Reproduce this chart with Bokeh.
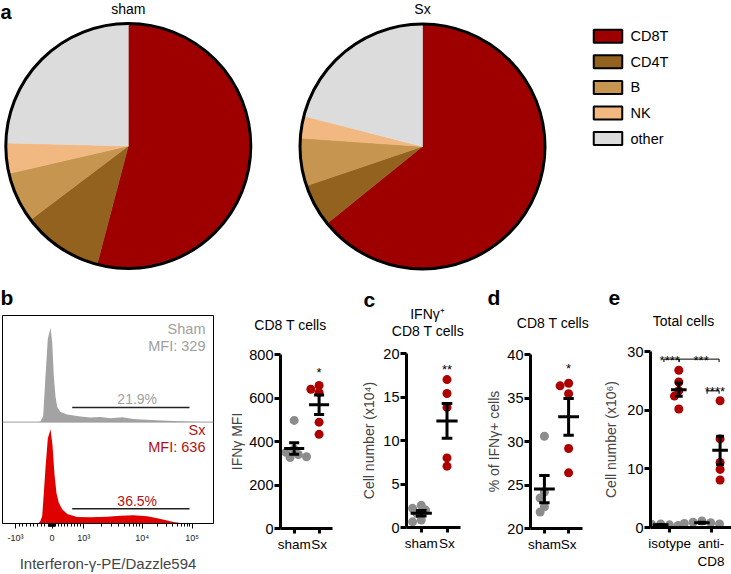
import numpy as np
from bokeh.plotting import figure
from bokeh.layouts import column, row
from bokeh.models import Range1d, FixedTicker, ColumnDataSource, Span
from bokeh.core.properties import value
from bokeh.embed import file_html
from bokeh.resources import INLINE

FONT = "Liberation Sans"
FS = 14.0       # titles / labels (px)
FS_TICK = "13.5px"

# ---------------- data ----------------
cell_types = ["CD8T", "CD4T", "B", "NK", "other"]
cell_colors = ["#9e0000", "#93621f", "#c6954f", "#f2b881", "#dcdcdc"]
pie_groups = ["sham", "Sx"]
pie_sham = [54.1, 10.6, 6.7, 4.0, 24.6]
pie_sx = [64.2, 5.6, 6.3, 2.9, 21.0]

hist_groups = ["Sham", "Sx"]
hist_mfi = [329, 636]
hist_gate_pct = ["21.9%", "36.5%"]
hist_gate_channel = [69.7, 187.0]
hist_tick_labels = ["-10³", "0", "10³", "10⁴", "10⁵"]
hist_tick_channel = [13.0, 49.5, 81.3, 139.7, 189.7]
hist_sham_channel = [36, 38, 40.7, 43, 45.3, 48, 49.7, 51.3, 53, 54.7, 58, 64.7, 78, 88, 98, 108,
                     119.7, 131, 148, 171, 185, 198]
hist_sham_pct = [0, 0.5, 6.4, 49, 88, 100, 85, 49, 27, 16, 10.6, 8, 5.9, 4.8, 5.3, 4, 5.1, 3.4,
                 2.3, 1.1, 0.5, 0]
hist_sx_channel = [36, 38, 39.7, 41.3, 43, 45.3, 48, 50, 52, 54, 56.3, 59.7, 64.7, 74.7, 88, 104.7,
                   118, 131, 144.7, 154.7, 164.7, 171, 178, 185]
hist_sx_pct = [0, 3, 8, 32, 59, 90, 100, 83, 52, 32, 22, 15, 10, 7, 6.7, 7.2, 8.2, 8.7, 7.7, 5.6,
               3.1, 1.5, 0.5, 0]

dot_cats = ["sham", "Sx"]
b_sham = [497, 365, 350, 340, 330, 326]
b_sx = [658, 640, 625, 489, 433]
c_sham = [2.55, 2.2, 2.0, 1.6, 0.85, 0.65]
c_sx = [17.0, 15.4, 13.8, 8.0, 7.05]
d_sham = [30.6, 24.2, 23.5, 22.5, 21.9]
d_sx = [36.7, 36.4, 35.5, 29.2, 26.4]
e_cats = ["isotype", "anti-\nCD8"]
e_iso_sham = [0.6, 0.5, 0.45, 0.4, 0.35]
e_iso_sx = [26.8, 24.8, 23.3, 22.4, 20.2]
e_cd8_sham = [1.1, 0.9, 0.8, 0.7, 0.6]
e_cd8_sx = [21.6, 15.1, 11.1, 9.9, 8.1]

GRAY = "#8c8c8c"
RED = "#ad0000"

# ---------------- layout helpers (page px) ----------------
W, HGT = 731, 574
SPLIT = 290


class Fig:
    def __init__(self, fx0, fx1, fy0, fy1, frame, xr, yr, xaxis=False, yaxis=False):
        l, r, t, b = frame
        self.frame = frame
        self.xr, self.yr = xr, yr
        self.p = figure(
            width=fx1 - fx0, height=fy1 - fy0,
            min_border_left=l - fx0, min_border_right=fx1 - r,
            min_border_top=t - fy0, min_border_bottom=fy1 - b,
            x_range=Range1d(*xr), y_range=Range1d(*yr),
            x_axis_location="below" if xaxis else None,
            y_axis_location="left" if yaxis else None,
            toolbar_location=None, output_backend="svg",
            outline_line_color=None, background_fill_color=None,
            border_fill_color=None, frame_align=False,
        )
        self.p.xgrid.visible = False
        self.p.ygrid.visible = False

    def x(self, xref):
        l, r, t, b = self.frame
        return self.xr[0] + (xref - l) / (r - l) * (self.xr[1] - self.xr[0])

    def y(self, yref):
        l, r, t, b = self.frame
        return self.yr[0] + (b - yref) / (b - t) * (self.yr[1] - self.yr[0])


def txt(p, x, y, text, size=FS, align="center", color="black", bold=False):
    """y is the text baseline; drawn with a middle baseline shifted up by ~0.36 em."""
    p.text(x=[x], y=[y], text=[text], text_align=align, text_baseline="middle",
           y_offset=-0.36 * size,
           text_font=value(FONT), text_font_size="%.1fpx" % size, text_color=color,
           text_font_style="bold" if bold else "normal")


# ---------------- top row: pies ----------------
T = Fig(0, W, 0, SPLIT, (0, W, 0, SPLIT), (0, W), (0, SPLIT))
tp = T.p
tp.background_fill_color = "white"
tp.border_fill_color = "white"
pie_centers = [(127.8, 145.5), (422.0, 146.0)]
R = 122.5
for name, shares, (cx, cy) in zip(pie_groups, [pie_sham, pie_sx], pie_centers):
    frac = np.array(shares, dtype=float) / sum(shares)
    cum = np.concatenate([[0.0], np.cumsum(frac)])
    src = ColumnDataSource(dict(start=np.pi / 2 - 2 * np.pi * cum[:-1],
                                end=np.pi / 2 - 2 * np.pi * cum[1:],
                                color=cell_colors))
    tp.wedge(x=T.x(cx), y=T.y(cy), radius=R, start_angle="start", end_angle="end",
             direction="clock", fill_color="color", line_color="color", line_width=0.5,
             source=src)
    tp.circle(x=[T.x(cx)], y=[T.y(cy)], radius=R, fill_color=None, line_color="black",
              line_width=3)
    txt(tp, T.x(cx), T.y(13.5), name)

txt(tp, T.x(0), T.y(19), "a", size=20, align="left", bold=True)

leg_y = [T.y(35.8 + i * 25.55) for i in range(len(cell_types))]
tp.rect(x=[T.x(607.5)] * len(cell_types), y=leg_y, width=28.5, height=13,
        fill_color=cell_colors, line_color="black", line_width=2)
tp.text(x=[T.x(630)] * len(cell_types), y=leg_y, text=cell_types, text_align="left",
        text_baseline="middle", text_font=value(FONT), text_font_size="14.5px")

# ---------------- panel b: histograms ----------------
H = Fig(0, 226, SPLIT, HGT, (2, 213, 315, 528), (0, 211), (0, 220.5), xaxis=True)
hp = H.p
SX_H = 107.5
unit = 220.5 / (528 - 315)  # data units per px
hp.varea(x=hist_sham_channel, y1=SX_H, y2=[SX_H + v for v in hist_sham_pct],
         fill_color="#a3a3a3")
hp.varea(x=hist_sx_channel, y1=0, y2=hist_sx_pct, fill_color="#e10000")
hp.add_layout(Span(location=SX_H, dimension="width", line_color="#9a9a9a", line_width=1))
hp.outline_line_color = "black"
hp.outline_line_width = 1

gate_off = 15 * unit
bases = [SX_H, 0.0]
colors_txt = ["#a0a0a0", "#b31212"]
for base, grp, mfi, pct, col in zip(bases, hist_groups, hist_mfi, hist_gate_pct, colors_txt):
    hp.segment(x0=[hist_gate_channel[0]], x1=[hist_gate_channel[1]],
               y0=[base + gate_off], y1=[base + gate_off], line_color="#222222", line_width=1.5)
    txt(hp, 134.7, base + gate_off + 3 * unit, pct, color=col)
    txt(hp, 203, base + 90 * unit, grp, size=14.5, align="right", color=col)
    txt(hp, 203, base + 72.5 * unit, "MFI: %d" % mfi, size=14.5, align="right", color=col)

cm, c0, c3, c4, c5 = hist_tick_channel
minor = []
for v in range(1, 10):
    minor += [c0 + (c3 - c0) * v / 10, c0 - (c0 - cm) * v / 10,
              c0 + (c3 - c0) * v / 100, c0 - (c0 - cm) * v / 100]
for m in range(2, 10):
    minor += [c3 + (c4 - c3) * np.log10(m), c4 + (c5 - c4) * np.log10(m)]
ax = hp.xaxis[0]
ax.ticker = FixedTicker(ticks=hist_tick_channel, minor_ticks=sorted(minor))
ax.major_label_overrides = dict(zip(hist_tick_channel, hist_tick_labels))
ax.major_label_text_font = FONT
ax.major_label_text_font_size = "9px"
ax.major_label_text_color = "#222222"
ax.major_label_standoff = 4
ax.major_tick_in = 0
ax.major_tick_out = 5
ax.minor_tick_in = 0
ax.minor_tick_out = 3
ax.axis_line_color = "black"
ax.axis_label = "Interferon-γ-PE/Dazzle594"
ax.axis_label_text_font = FONT
ax.axis_label_text_font_size = "15px"
ax.axis_label_text_font_style = "normal"
ax.axis_label_standoff = 9


# ---------------- dot panels ----------------
def swarm(vals, xc, xppu, yppu, d):
    placed = []
    xs = [0.0] * len(vals)
    for i in sorted(range(len(vals)), key=lambda k: -vals[k]):
        ypx = vals[i] * yppu
        off = 0.0
        for k in [0, -1, 1, -2, 2, -3, 3, -4, 4]:
            off = k * d * 0.5
            if all((off - po) ** 2 + (ypx - pyy) ** 2 >= (d * 0.7) ** 2 for po, pyy in placed):
                break
        placed.append((off, ypx))
        xs[i] = xc + off / xppu
    return xs


def dot_panel(fx, frame, cats_px, yr, yticks, xlabels, ylabel, lab_standoff, groups,
              mean_w=22, cap_w=11):
    fl, fr, ft, fb = frame
    span = cats_px[1] - cats_px[0]
    xr = (1 - (cats_px[0] - fl) / span, 2 + (fr - cats_px[1]) / span)
    F = Fig(fx[0], fx[1], SPLIT, HGT, frame, xr, yr, xaxis=True, yaxis=True)
    p = F.p
    xppu = span
    yppu = (fb - ft) / (yr[1] - yr[0])
    D = 9
    for vals, xc, col in groups:
        xs = swarm(vals, xc, xppu, yppu, D)
        p.scatter(x=xs, y=vals, size=D, fill_color=col, line_color=None)
    for vals, xc, col in groups:
        v = np.array(vals, dtype=float)
        m = v.mean()
        s = v.std(ddof=1) / np.sqrt(len(v))
        hw = mean_w / 2 / xppu
        hc = cap_w / 2 / xppu
        p.segment(x0=[xc - hw, xc, xc - hc, xc - hc], x1=[xc + hw, xc, xc + hc, xc + hc],
                  y0=[m, m - s, m - s, m + s], y1=[m, m + s, m - s, m + s],
                  line_color="black", line_width=3)
    for a in (p.xaxis[0], p.yaxis[0]):
        a.axis_line_width = 3
        a.axis_line_color = "black"
        a.major_tick_line_width = 3
        a.major_tick_in = 0
        a.minor_tick_in = 0
        a.minor_tick_out = 0
        a.major_label_text_font = FONT
        a.major_label_text_font_size = FS_TICK
        a.major_label_text_color = "black"
        a.major_label_standoff = 1
    p.yaxis[0].major_label_text_font_size = "14.5px"
    p.yaxis[0].major_tick_out = 6
    p.xaxis[0].major_tick_out = 5
    p.xaxis[0].major_label_standoff = 3
    p.yaxis[0].ticker = FixedTicker(ticks=yticks, minor_ticks=[])
    p.xaxis[0].ticker = FixedTicker(ticks=[1, 2], minor_ticks=[])
    p.xaxis[0].major_label_overrides = {1: xlabels[0], 2: xlabels[1]}
    p.yaxis[0].axis_label = ylabel
    p.yaxis[0].axis_label_text_font = FONT
    p.yaxis[0].axis_label_text_font_size = "14px"
    p.yaxis[0].axis_label_text_font_style = "normal"
    p.yaxis[0].axis_label_standoff = lab_standoff
    return F


B = dot_panel((226, 358), (275, 332, 354, 528), (290, 317.3), (0, 800),
              [0, 200, 400, 600, 800], dot_cats, "IFNγ MFI", 1,
              [(b_sham, 1, GRAY), (b_sx, 2, RED)])
txt(B.p, 2, 695, "*", size=13)

C = dot_panel((358, 483), (404, 460, 353, 527), (419.3, 446), (0, 20),
              [0, 5, 10, 15, 20], dot_cats, "Cell number (x10⁴)", 3,
              [(c_sham, 1, GRAY), (c_sx, 2, RED)])
txt(C.p, 2, 17.6, "**", size=13)

Dd = dot_panel((483, 600), (527, 582, 354, 528), (541.7, 567.3), (20, 40),
               [20, 25, 30, 35, 40], dot_cats, "% of IFNγ+ cells", 2,
               [(d_sham, 1, GRAY), (d_sx, 2, RED)])
txt(Dd.p, 2, 37.85, "*", size=13)

sub = 0.22
E = dot_panel((600, 731), (648, 731, 351, 527), (667.7, 710), (0, 30),
              [0, 10, 20, 30], e_cats, "Cell number (x10⁶)", 5,
              [(e_iso_sham, 1 - sub, GRAY), (e_iso_sx, 1 + sub, RED),
               (e_cd8_sham, 2 - sub, GRAY), (e_cd8_sx, 2 + sub, RED)],
              mean_w=16, cap_w=8)
brackets = [(0.86, 1.227, 28.7, "****", 1.0), (1.227, 2.196, 28.7, "***", 1.76),
            (1.905, 2.196, 23.3, "****", 2.095)]
for xa, xb, yb, t_, xt in brackets:
    E.p.segment(x0=[xa, xa, xb], x1=[xb, xa, xb], y0=[yb, yb, yb], y1=[yb, yb - 0.5, yb - 0.5],
                line_color="black", line_width=1)
    txt(E.p, xt, yb - 1.0, t_, size=13)

# ---------------- overlay for panel titles and letters (transparent) ----------------
OV_TOP = 268
O = Fig(0, W, OV_TOP, HGT, (0, W, OV_TOP, HGT), (0, W), (HGT, OV_TOP))
op = O.p
op.margin = (-(HGT - OV_TOP), 0, 0, 0)
for letter, lx, ly in [("b", 0, 305), ("c", 363, 306.7), ("d", 487, 305), ("e", 608, 305)]:
    txt(op, lx, ly, letter, size=21, align="left", bold=True)
for title, tx, ty in [("CD8 T cells", 290, 330), ("IFNγ⁺", 427, 318.3),
                      ("CD8 T cells", 427.5, 335.7), ("CD8 T cells", 552.5, 327.3),
                      ("Total cells", 683, 325.7)]:
    txt(op, tx, ty, title)

layout = column(tp, row(hp, B.p, C.p, Dd.p, E.p, spacing=0), op, spacing=0)
open("out.html", "w").write(file_html(layout, INLINE))
